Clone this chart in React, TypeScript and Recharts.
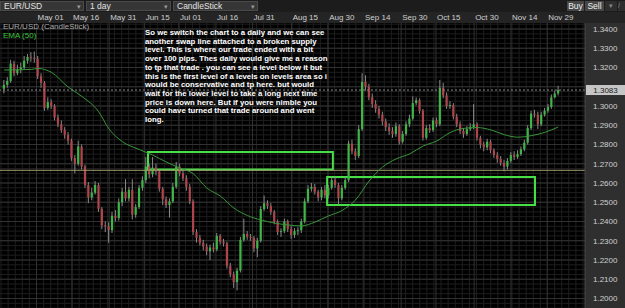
import {
  ComposedChart, Bar, Line, XAxis, YAxis, CartesianGrid,
  ReferenceLine, ReferenceArea,
} from 'recharts';

// daily EUR/USD candles (oldest first)
const opens = [
  1.3090, 1.3110, 1.3130, 1.3220, 1.3170, 1.3190, 1.3200, 1.3235, 1.3255, 1.3250,
  1.3245, 1.3155, 1.3120, 1.2990, 1.3020, 1.3000, 1.2940, 1.2905, 1.2875, 1.2850,
  1.2820, 1.2730, 1.2700, 1.2790, 1.2685, 1.2590, 1.2525, 1.2550, 1.2590, 1.2465,
  1.2380, 1.2375, 1.2355, 1.2430, 1.2418, 1.2500, 1.2555, 1.2520, 1.2565, 1.2435,
  1.2475, 1.2575, 1.2615, 1.2685, 1.2645, 1.2680, 1.2660, 1.2570, 1.2515, 1.2485,
  1.2505, 1.2580, 1.2685, 1.2650, 1.2625, 1.2580, 1.2505, 1.2345, 1.2315, 1.2290,
  1.2270, 1.2245, 1.2265, 1.2255, 1.2325, 1.2295, 1.2285, 1.2170, 1.2125, 1.2085,
  1.2145, 1.2305, 1.2335, 1.2320, 1.2315, 1.2260, 1.2300, 1.2465, 1.2495, 1.2480,
  1.2450, 1.2400, 1.2345, 1.2350, 1.2400, 1.2360, 1.2330, 1.2350, 1.2355, 1.2400,
  1.2505, 1.2570, 1.2580, 1.2555, 1.2525, 1.2565, 1.2535, 1.2575, 1.2615, 1.2590,
  1.2520, 1.2575, 1.2615, 1.2805, 1.2765, 1.2740, 1.2880, 1.3125, 1.3100, 1.3045,
  1.3010, 1.2985, 1.2955, 1.2920, 1.2890, 1.2870, 1.2855, 1.2895, 1.2815, 1.2855,
  1.2905, 1.2935, 1.3015, 1.3030, 1.2975, 1.2835, 1.2885, 1.2875, 1.2925, 1.2905,
  1.3095, 1.3055, 1.3000, 1.3005, 1.2945, 1.2905, 1.2870, 1.2855, 1.2880, 1.2890,
  1.2905, 1.2835, 1.2800, 1.2785, 1.2815, 1.2770, 1.2745, 1.2725, 1.2705, 1.2685,
  1.2715, 1.2745, 1.2735, 1.2750, 1.2775, 1.2810, 1.2885, 1.2960, 1.2955, 1.2905,
  1.2955, 1.2975, 1.2995, 1.3045, 1.3065,
];
const highs = [
  1.3135, 1.3150, 1.3240, 1.3235, 1.3215, 1.3225, 1.3260, 1.3270, 1.3280, 1.3283,
  1.3260, 1.3170, 1.3130, 1.3045, 1.3035, 1.3010, 1.2955, 1.2925, 1.2890, 1.2865,
  1.2830, 1.2745, 1.2820, 1.2800, 1.2695, 1.2605, 1.2575, 1.2610, 1.2600, 1.2475,
  1.2400, 1.2395, 1.2450, 1.2460, 1.2520, 1.2575, 1.2620, 1.2580, 1.2620, 1.2490,
  1.2590, 1.2635, 1.2735, 1.2700, 1.2735, 1.2700, 1.2670, 1.2580, 1.2530, 1.2520,
  1.2600, 1.2710, 1.2700, 1.2665, 1.2640, 1.2595, 1.2515, 1.2360, 1.2330, 1.2305,
  1.2285, 1.2280, 1.2290, 1.2340, 1.2335, 1.2310, 1.2295, 1.2185, 1.2140, 1.2160,
  1.2320, 1.2415, 1.2350, 1.2335, 1.2325, 1.2315, 1.2480, 1.2535, 1.2510, 1.2495,
  1.2460, 1.2410, 1.2365, 1.2415, 1.2410, 1.2375, 1.2365, 1.2370, 1.2415, 1.2520,
  1.2590, 1.2600, 1.2595, 1.2565, 1.2580, 1.2590, 1.2590, 1.2630, 1.2635, 1.2600,
  1.2590, 1.2630, 1.2820, 1.2825, 1.2780, 1.2900, 1.3170, 1.3160, 1.3115, 1.3065,
  1.3030, 1.3000, 1.2970, 1.2935, 1.2910, 1.2890, 1.2915, 1.2905, 1.2870, 1.2920,
  1.2955, 1.3050, 1.3045, 1.3040, 1.2985, 1.2900, 1.2905, 1.2940, 1.2940, 1.3135,
  1.3120, 1.3070, 1.3025, 1.3015, 1.2960, 1.2920, 1.2885, 1.2895, 1.2910, 1.3010,
  1.2915, 1.2845, 1.2815, 1.2830, 1.2825, 1.2780, 1.2760, 1.2740, 1.2720, 1.2730,
  1.2760, 1.2765, 1.2770, 1.2790, 1.2825, 1.2900, 1.2975, 1.2980, 1.2970, 1.2970,
  1.2990, 1.3010, 1.3060, 1.3080, 1.3105,
];
const lows = [
  1.3065, 1.3095, 1.3120, 1.3155, 1.3160, 1.3170, 1.3190, 1.3220, 1.3230, 1.3225,
  1.3140, 1.3095, 1.2975, 1.2980, 1.2985, 1.2925, 1.2890, 1.2860, 1.2830, 1.2800,
  1.2715, 1.2650, 1.2690, 1.2670, 1.2575, 1.2495, 1.2510, 1.2540, 1.2450, 1.2360,
  1.2345, 1.2290, 1.2340, 1.2400, 1.2405, 1.2480, 1.2505, 1.2505, 1.2410, 1.2420,
  1.2465, 1.2560, 1.2600, 1.2625, 1.2630, 1.2640, 1.2555, 1.2485, 1.2470, 1.2420,
  1.2495, 1.2570, 1.2635, 1.2610, 1.2560, 1.2490, 1.2330, 1.2290, 1.2275, 1.2250,
  1.2225, 1.2200, 1.2240, 1.2245, 1.2280, 1.2270, 1.2155, 1.2110, 1.2055, 1.2042,
  1.2135, 1.2295, 1.2305, 1.2300, 1.2240, 1.2215, 1.2290, 1.2455, 1.2465, 1.2435,
  1.2385, 1.2330, 1.2320, 1.2340, 1.2345, 1.2310, 1.2315, 1.2330, 1.2340, 1.2390,
  1.2495, 1.2555, 1.2540, 1.2505, 1.2510, 1.2520, 1.2520, 1.2565, 1.2575, 1.2490,
  1.2510, 1.2565, 1.2605, 1.2750, 1.2720, 1.2730, 1.2870, 1.3080, 1.3030, 1.2990,
  1.2965, 1.2935, 1.2900, 1.2870, 1.2850, 1.2835, 1.2840, 1.2800, 1.2805, 1.2845,
  1.2890, 1.2925, 1.3005, 1.2960, 1.2820, 1.2825, 1.2860, 1.2865, 1.2890, 1.2895,
  1.3040, 1.2985, 1.2985, 1.2930, 1.2890, 1.2855, 1.2835, 1.2845, 1.2870, 1.2880,
  1.2820, 1.2780, 1.2765, 1.2770, 1.2755, 1.2730, 1.2705, 1.2690, 1.2660, 1.2670,
  1.2705, 1.2720, 1.2725, 1.2740, 1.2765, 1.2800, 1.2875, 1.2940, 1.2880, 1.2895,
  1.2945, 1.2965, 1.2985, 1.3040, 1.3055,
];
const closes = [
  1.3110, 1.3130, 1.3220, 1.3170, 1.3190, 1.3200, 1.3235, 1.3255, 1.3250, 1.3245,
  1.3155, 1.3120, 1.2990, 1.3020, 1.3000, 1.2940, 1.2905, 1.2875, 1.2850, 1.2820,
  1.2730, 1.2700, 1.2790, 1.2685, 1.2590, 1.2525, 1.2550, 1.2590, 1.2465, 1.2380,
  1.2375, 1.2355, 1.2430, 1.2418, 1.2500, 1.2555, 1.2520, 1.2565, 1.2435, 1.2475,
  1.2575, 1.2615, 1.2685, 1.2645, 1.2680, 1.2660, 1.2570, 1.2515, 1.2485, 1.2505,
  1.2580, 1.2685, 1.2650, 1.2625, 1.2580, 1.2505, 1.2345, 1.2315, 1.2290, 1.2270,
  1.2245, 1.2265, 1.2255, 1.2325, 1.2295, 1.2285, 1.2170, 1.2125, 1.2085, 1.2145,
  1.2305, 1.2335, 1.2320, 1.2315, 1.2260, 1.2300, 1.2465, 1.2495, 1.2480, 1.2450,
  1.2400, 1.2345, 1.2350, 1.2400, 1.2360, 1.2330, 1.2350, 1.2355, 1.2400, 1.2505,
  1.2570, 1.2580, 1.2555, 1.2525, 1.2565, 1.2535, 1.2575, 1.2615, 1.2590, 1.2520,
  1.2575, 1.2615, 1.2805, 1.2765, 1.2740, 1.2880, 1.3125, 1.3100, 1.3045, 1.3010,
  1.2985, 1.2955, 1.2920, 1.2890, 1.2870, 1.2855, 1.2895, 1.2815, 1.2855, 1.2905,
  1.2935, 1.3015, 1.3030, 1.2975, 1.2835, 1.2885, 1.2875, 1.2925, 1.2905, 1.3095,
  1.3055, 1.3000, 1.3005, 1.2945, 1.2905, 1.2870, 1.2855, 1.2880, 1.2890, 1.2905,
  1.2835, 1.2800, 1.2785, 1.2815, 1.2770, 1.2745, 1.2725, 1.2705, 1.2685, 1.2715,
  1.2745, 1.2735, 1.2750, 1.2775, 1.2810, 1.2885, 1.2960, 1.2955, 1.2905, 1.2955,
  1.2975, 1.2995, 1.3045, 1.3065, 1.3083,
];

const emaIdx = [
  0, 8, 10, 14, 19, 23, 28, 31, 35, 40, 44, 48, 52, 56, 60, 64, 68, 72, 76, 80,
  84, 88, 92, 96, 100, 104, 108, 112, 116, 120, 124, 128, 132, 136, 140, 144, 148, 152, 156, 160, 164,
];
const emaVal = [
  1.3187, 1.3190, 1.3195, 1.3175, 1.3098, 1.3050, 1.2970, 1.2882, 1.2815, 1.2774,
  1.2745, 1.2709, 1.2678, 1.2648, 1.2574, 1.2532, 1.2470, 1.2431, 1.2408, 1.2392,
  1.2382, 1.2377, 1.2397, 1.2429, 1.2457, 1.2512, 1.2610, 1.2683, 1.2725, 1.2751,
  1.2792, 1.2818, 1.2862, 1.2884, 1.2888, 1.2876, 1.2851, 1.2838, 1.2846, 1.2863, 1.2891,
];

// date header (label starts at its tick, tick in candle units)
const dateLabels = ['May 01', 'May 16', 'May 31', 'Jun 15', 'Jul 01', 'Jul 16', 'Jul 31', 'Aug 15',
  'Aug 30', 'Sep 14', 'Sep 30', 'Oct 15', 'Oct 30', 'Nov 14', 'Nov 29'];
const dateTickIdx = [9.6, 20.1, 31.1, 41.6, 51.8, 62.7, 73.5, 85.1, 95.9, 106.5, 117.5, 127.8, 139.1, 150.0, 160.7];

// price labels (1.3100 sits under the last-price tag, so only its grid line is kept)
const priceTicks = [1.20, 1.21, 1.22, 1.23, 1.24, 1.25, 1.26, 1.27, 1.28, 1.29, 1.30, 1.32, 1.33, 1.34];
const priceGrid = [1.20, 1.21, 1.22, 1.23, 1.24, 1.25, 1.26, 1.27, 1.28, 1.29, 1.30, 1.31, 1.32, 1.33, 1.34];

// hand-drawn zones and the swap line
const zoneX1 = [42.6, 95.6];
const zoneX2 = [97.3, 157.1];
const zoneTop = [1.2761, 1.2631];
const zoneBottom = [1.2670, 1.2486];
const swapLevel = 1.2666;

const noteLines = [
  'So we switch the chart to a daily and we can see',
  'another swap line attached to a broken supply',
  'level. This is where our trade ended with a bit',
  'over 100 pips. Thes daily would give me a reason',
  'to tp that trade . you can see a level below it but',
  'this is the first level of a levels on levels area so i',
  'would be conservative and tp here. but would',
  'wait for the lower level to take a long next time',
  'price is down here. But if you were nimble you',
  'could have turned that trade around and went',
  'long.',
];

const UP = '#3fb548';
const DOWN = '#b0444c';
const WICK = '#8a8a8a';
const FONT = '"Liberation Sans", Arial, sans-serif';
const X_DOMAIN: [number, number] = [-1.2, 171.9];
const Y_DOMAIN: [number, number] = [1.19506, 1.34312];

const lastPrice = closes[closes.length - 1];

const emaMap = new Map(emaIdx.map((k, j) => [k, emaVal[j]]));
const data = closes.map((c, i) => ({
  i,
  o: opens[i],
  hi: highs[i],
  lo: lows[i],
  c,
  range: [lows[i], highs[i]],
  ema: emaMap.get(i) ?? null,
}));

// grid lines: fine mesh plus heavier lines on the round levels / date ticks
const minorH: number[] = [];
for (let p = 1.195; p <= 1.3431; p += 0.0025) minorH.push(+p.toFixed(4));
const minorV: number[] = [];
const vStep = (dateTickIdx[1] - dateTickIdx[0]) / 5;
for (let v = dateTickIdx[0] - 5 * vStep; v < X_DOMAIN[1]; v += vStep) minorV.push(v);

function Candle(props: any) {
  const { x, y, width, height, payload } = props;
  if (!payload || height == null) return null;
  const top = Math.min(y, y + height);
  const h = Math.abs(height);
  const span = payload.hi - payload.lo || 1e-6;
  const py = (p: number) => top + ((payload.hi - p) / span) * h;
  const up = payload.c >= payload.o;
  const bTop = py(Math.max(payload.o, payload.c));
  const bBot = py(Math.min(payload.o, payload.c));
  const cx = x + width / 2;
  return (
    <g>
      <line x1={cx} x2={cx} y1={top} y2={top + h} stroke={WICK} strokeWidth={1} />
      <rect x={cx - 1.1} y={bTop} width={2.2} height={Math.max(1, bBot - bTop)} fill={up ? UP : DOWN} />
    </g>
  );
}

function DateTick({ x, y, payload }: any) {
  const k = dateTickIdx.indexOf(payload.value);
  return (
    <text x={x + 1} y={y - 1} fill="#d0d0d0" fontSize={8} fontFamily={FONT} textAnchor="start">
      {dateLabels[k] ?? ''}
    </text>
  );
}

function PriceTag({ viewBox }: any) {
  if (!viewBox) return null;
  const right = viewBox.x + viewBox.width;
  return (
    <g>
      <rect x={right + 1} y={viewBox.y - 5} width={39} height={10} fill="#c6c6c6" />
      <text x={right + 20.5} y={viewBox.y + 3} textAnchor="middle" fontSize={8} fontFamily={FONT} fill="#202020">
        {lastPrice.toFixed(4)}
      </text>
    </g>
  );
}

function Dropdown({ left, width, label }: { left: number; width: number; label: string }) {
  return (
    <div style={{
      position: 'absolute', left, top: 1, width, height: 10, background: '#363636',
      border: '1px solid #4a4a4a', boxSizing: 'border-box', color: '#e2e2e2',
      fontSize: 8.5, lineHeight: '9px', paddingLeft: 3,
    }}>
      {label}
      <span style={{ position: 'absolute', right: 2, top: 0, color: '#999', fontSize: 7 }}>▾</span>
    </div>
  );
}

export default function App() {
  return (
    <div style={{ position: 'relative', width: 625, height: 308, background: '#000', overflow: 'hidden', fontFamily: FONT }}>
      <style>{'body{margin:0}'}</style>

      {/* toolbar */}
      <div style={{ position: 'absolute', left: 0, top: 0, width: 625, height: 12, background: '#1c1c1c' }} />
      <Dropdown left={0} width={84} label="EUR/USD" />
      <Dropdown left={86} width={85} label="1 day" />
      <Dropdown left={173} width={85} label="CandleStick" />
      <div style={{ position: 'absolute', left: 567, top: 1, width: 17, height: 10, background: '#474747', color: '#eee', fontSize: 8.5, lineHeight: '10px', textAlign: 'center' }}>Buy</div>
      <div style={{ position: 'absolute', left: 585, top: 1, width: 19, height: 10, background: '#474747', color: '#eee', fontSize: 8.5, lineHeight: '10px', textAlign: 'center' }}>Sell</div>
      <div style={{ position: 'absolute', left: 605, top: 1, width: 12, height: 10, background: '#2e2e2e', color: '#888', fontSize: 7, lineHeight: '10px', textAlign: 'center' }}>▾</div>
      <div style={{ position: 'absolute', left: 618, top: 1, width: 7, height: 10, background: '#2e2e2e', color: '#888', fontSize: 7, lineHeight: '10px' }}>/</div>

      {/* date row + price axis panel */}
      <div style={{ position: 'absolute', left: 0, top: 12, width: 625, height: 11, background: '#242424' }} />
      <div style={{ position: 'absolute', left: 585, top: 23, width: 40, height: 285, background: '#2f2f2f' }} />

      <div style={{ position: 'absolute', left: 0, top: 12 }}>
        <ComposedChart width={625} height={296} data={data} margin={{ top: 0, right: 0, bottom: 0, left: 0 }}>
          <CartesianGrid horizontalValues={minorH} verticalValues={minorV} stroke="#1e1e1e" />
          <CartesianGrid horizontalValues={priceGrid} verticalValues={dateTickIdx} stroke="#323232" />
          <XAxis
            type="number"
            dataKey="i"
            orientation="top"
            domain={X_DOMAIN}
            allowDataOverflow
            ticks={dateTickIdx}
            interval={0}
            height={11}
            tickLine={false}
            axisLine={false}
            tickSize={0}
            tickMargin={2}
            tick={<DateTick />}
          />
          <YAxis
            orientation="right"
            width={40}
            domain={Y_DOMAIN}
            allowDataOverflow
            ticks={priceTicks}
            interval={0}
            tickLine={false}
            tickSize={0}
            tickMargin={8}
            axisLine={{ stroke: '#4a4a4a' }}
            tickFormatter={(v: number) => v.toFixed(4)}
            tick={{ fill: '#cfcfcf', fontSize: 8, fontFamily: FONT }}
          />

          <ReferenceLine y={swapLevel} stroke="#a39d6e" strokeWidth={1} />
          {zoneX1.map((x1, k) => (
            <ReferenceArea
              key={k}
              x1={x1}
              x2={zoneX2[k]}
              y1={zoneBottom[k]}
              y2={zoneTop[k]}
              fill="none"
              fillOpacity={0}
              stroke="#46e046"
              strokeWidth={2}
            />
          ))}

          <Line
            type="monotone"
            dataKey="ema"
            stroke="#3a963a"
            strokeWidth={1}
            dot={false}
            activeDot={false}
            connectNulls
            isAnimationActive={false}
          />
          <Bar dataKey="range" barSize={3} shape={<Candle />} isAnimationActive={false} />

          <ReferenceLine
            y={lastPrice}
            stroke="#8c8c8c"
            strokeDasharray="2 2"
            label={<PriceTag />}
          />
        </ComposedChart>
      </div>

      {/* legend */}
      <div style={{ position: 'absolute', left: 3, top: 23, color: '#a8a8a8', fontSize: 8, lineHeight: '8px' }}>EUR/USD (CandleStick)</div>
      <div style={{ position: 'absolute', left: 3, top: 32, color: '#3ec43e', fontSize: 8, lineHeight: '8px' }}>EMA (50)</div>

      {/* annotation */}
      <div style={{
        position: 'absolute', left: 145, top: 29, color: '#fff', fontWeight: 'bold',
        fontSize: 7.8, lineHeight: '8.7px', whiteSpace: 'pre',
      }}>
        {noteLines.join('\n')}
      </div>
    </div>
  );
}
